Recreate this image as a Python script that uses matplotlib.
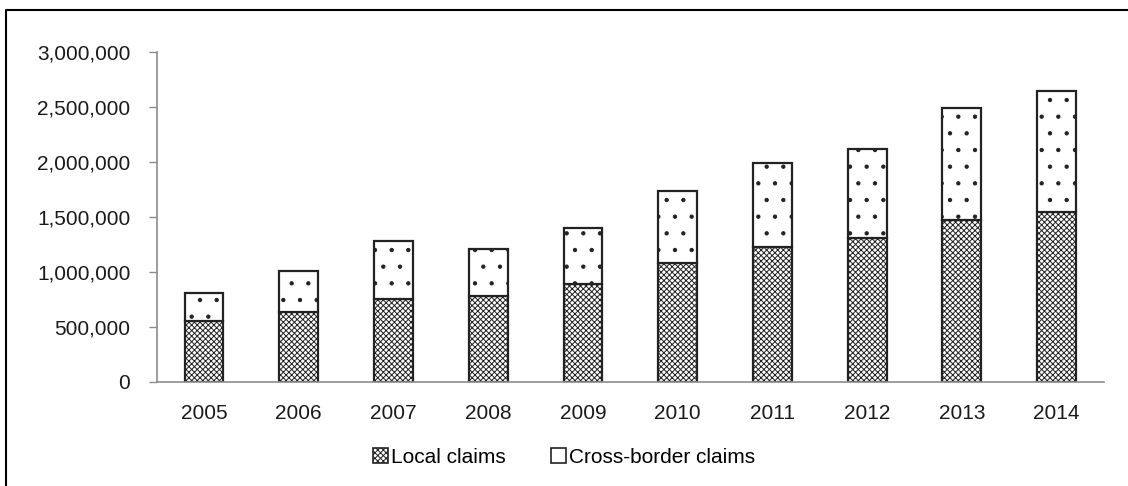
import matplotlib
matplotlib.use("Agg")
import matplotlib.pyplot as plt
from matplotlib.lines import Line2D
from matplotlib.patches import Patch
from matplotlib.ticker import FuncFormatter

# values
years = ["2005", "2006", "2007", "2008", "2009", "2010", "2011", "2012", "2013", "2014"]
local_claims = [552000, 636000, 752000, 780000, 888000, 1079000, 1222000, 1305000, 1470000, 1545000]
total_claims = [809000, 1006000, 1280000, 1206000, 1396000, 1737000, 1985000, 2118000, 2485000, 2643000]
cross_border = [t - l for t, l in zip(total_claims, local_claims)]

y_ticks = [0, 500000, 1000000, 1500000, 2000000, 2500000, 3000000]

plt.rcParams["font.family"] = ["Liberation Sans", "DejaVu Sans"]
plt.rcParams["hatch.linewidth"] = 0.7

fig = plt.figure(figsize=(11.28, 4.86), dpi=100)
ax = fig.add_axes([0.1389, 0.2146, 0.9787 - 0.1389, 0.8936 - 0.2146])

x = range(len(years))
b1 = ax.bar(x, local_claims, width=0.41, color="white", edgecolor="#222222",
            hatch="xxxxxx", linewidth=1.6, label="Local claims")
b2 = ax.bar(x, cross_border, bottom=local_claims, width=0.41, color="white",
            edgecolor="#222222", hatch=".", linewidth=1.6, label="Cross-border claims")

ax.set_xlim(-0.5, len(years) - 0.5)
ax.set_ylim(0, 3000000)
ax.set_yticks(y_ticks)
ax.yaxis.set_major_formatter(FuncFormatter(lambda v, p: f"{int(v):,}"))
ax.set_xticks(list(x))
ax.set_xticklabels(years)

for s in ["top", "right"]:
    ax.spines[s].set_visible(False)
for s in ["left", "bottom"]:
    ax.spines[s].set_color("#8c8c8c")
    ax.spines[s].set_linewidth(1.2)

ax.tick_params(axis="y", length=6, width=1, color="#8c8c8c", pad=13, labelsize=15, labelcolor="#1a1a1a")
ax.tick_params(axis="x", length=0, pad=16, labelsize=15, labelcolor="#1a1a1a")

h_local = Patch(facecolor="white", edgecolor="#222222", hatch="xxxxxx", linewidth=1.2)
h_cross = Patch(facecolor="white", edgecolor="#222222", linewidth=1.2)
fig.legend(handles=[h_local, h_cross], labels=["Local claims", "Cross-border claims"],
           loc="center", bbox_to_anchor=(0.5, 1 - 457 / 486), ncol=2,
           frameon=False, fontsize=15, handlelength=0.7, handleheight=0.7,
           handletextpad=0.15, columnspacing=2.2)

# outer frame, only the left and top edges show
fx = 6 / 1128
fy = 1 - 10 / 486
fig.add_artist(Line2D([fx, fx, 1.0], [0.0, fy, fy], transform=fig.transFigure,
                      color="black", linewidth=1.5))

fig.savefig("out.png", dpi=100)
